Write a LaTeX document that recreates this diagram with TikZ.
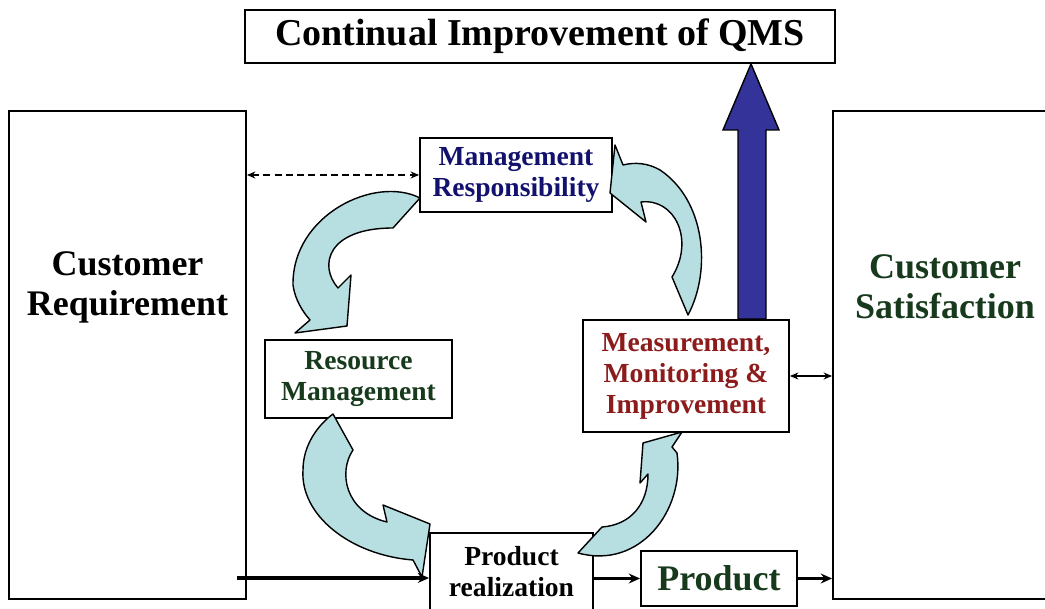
\documentclass[tikz,border=0pt]{standalone}
\usepackage{fontspec}
\setmainfont{Liberation Serif}
\usetikzlibrary{arrows.meta}
\definecolor{mgmtblue}{HTML}{12126E}
\definecolor{darkgreen}{HTML}{173A1C}
\definecolor{darkred}{HTML}{8C1C1C}
\definecolor{qmsblue}{HTML}{333399}
\definecolor{flowfill}{HTML}{B7DEE1}
\begin{document}
\begin{tikzpicture}[x=0.025cm, y=-0.025cm,
    box/.style={draw, line width=1.3pt, inner sep=0pt, align=center, font=\bfseries\fontsize{19.6}{22}\selectfont},
    bigtext/.style={inner sep=0pt, align=center, font=\bfseries\fontsize{25.6}{28.5}\selectfont},
    cycle arrow/.style={draw, line width=1pt, fill=flowfill, line join=round},
    link/.style={draw, line width=1pt, {Stealth[length=6pt,width=5pt]}-{Stealth[length=6pt,width=5pt]}},
    flow/.style={draw, line width=2.2pt, -{Stealth[length=8pt,width=7pt]}}]
            \useasboundingbox (0,0) rectangle (1045,609);
            % outer boxes
            \node[box, minimum width=14.75cm, minimum height=1.325cm, font=\bfseries\fontsize{27}{30}\selectfont] (qms) at (540,36.5) {Continual Improvement of QMS};
            \node[box, minimum width=5.925cm, minimum height=12.2cm] (custreq) at (127.5,355) {};
            \node[bigtext] (custreqtxt) at (127.5,287) {Customer\\Requirement};
            \node[box, minimum width=5.75cm, minimum height=12.2cm] (custsat) at (948,355) {};
            \node[bigtext, text=darkgreen] (custsattxt) at (945,287) {Customer\\Satisfaction};
            % process boxes
            \node[box, text=mgmtblue, minimum width=4.8cm, minimum height=1.85cm] (mgmt) at (516,175) {Management\\Responsibility};
            \node[box, text=darkgreen, minimum width=4.675cm, minimum height=1.95cm] (resource) at (358.5,379) {Resource\\Management};
            \node[box, text=darkred, minimum width=5.15cm, minimum height=2.8cm] (measure) at (686,376) {Measurement,\\Monitoring \&\\Improvement};
            \node[box, minimum width=4.075cm, minimum height=1.95cm] (prodreal) at (511.5,572) {Product\\realization};
            \node[box, text=darkgreen, minimum width=3.9cm, minimum height=1.375cm, font=\bfseries\fontsize{25.6}{28.5}\selectfont] (product) at (719,578.5) {Product};
            \coordinate (crin) at (237,578);
            % cycle arrows
            \path[cycle arrow] (420,198) .. controls (375,175) and (292,215) .. (293,285)
                .. controls (295,300) and (303,312) .. (310,320) -- (295,333) -- (347,326) -- (351,275)
                -- (338,288) .. controls (318,265) and (328,228) .. (393,228) -- cycle;
            \path[cycle arrow] (333,414) -- (353,450) .. controls (338,472) and (345,512) .. (387,522)
                -- (383,505) -- (430,524) -- (422,577) -- (413,560)
                .. controls (350,555) and (300,515) .. (303,470) .. controls (303,445) and (318,425) .. (333,414) -- cycle;
            \path[cycle arrow] (578,553) .. controls (640,570) and (685,510) .. (677,453)
                -- (672,447) -- (682,432) -- (643,443) -- (640,483) -- (648,474)
                .. controls (648,505) and (630,525) .. (602,527) -- cycle;
            \path[cycle arrow] (688,315) .. controls (712,270) and (705,200) .. (660,170)
                .. controls (648,163) and (635,162) .. (623,165) -- (615,145) -- (610,193) -- (646,222)
                -- (641,202) .. controls (675,198) and (695,240) .. (672,277) -- cycle;
            % improvement arrow
            \path[draw, line width=1pt, fill=qmsblue, line join=miter] (measure.north -| 738,0) -- (738,130) -- (723,130)
                -- (qms.south -| 751,0) -- (779,130) -- (766,130) -- (measure.north -| 766,0) -- cycle;
            % links
            \path[link, dash pattern=on 5pt off 3pt] (mgmt.west -| custreq.east) -- (mgmt.west);
            \path[link] (measure.east) -- (measure.east -| custsat.west);
            \path[flow] (crin) -- (crin -| prodreal.west);
            \path[flow] (prodreal.east |- product.west) -- (product.west);
            \path[flow] (product.east) -- (product.east -| custsat.west);
        \end{tikzpicture}
\end{document}
